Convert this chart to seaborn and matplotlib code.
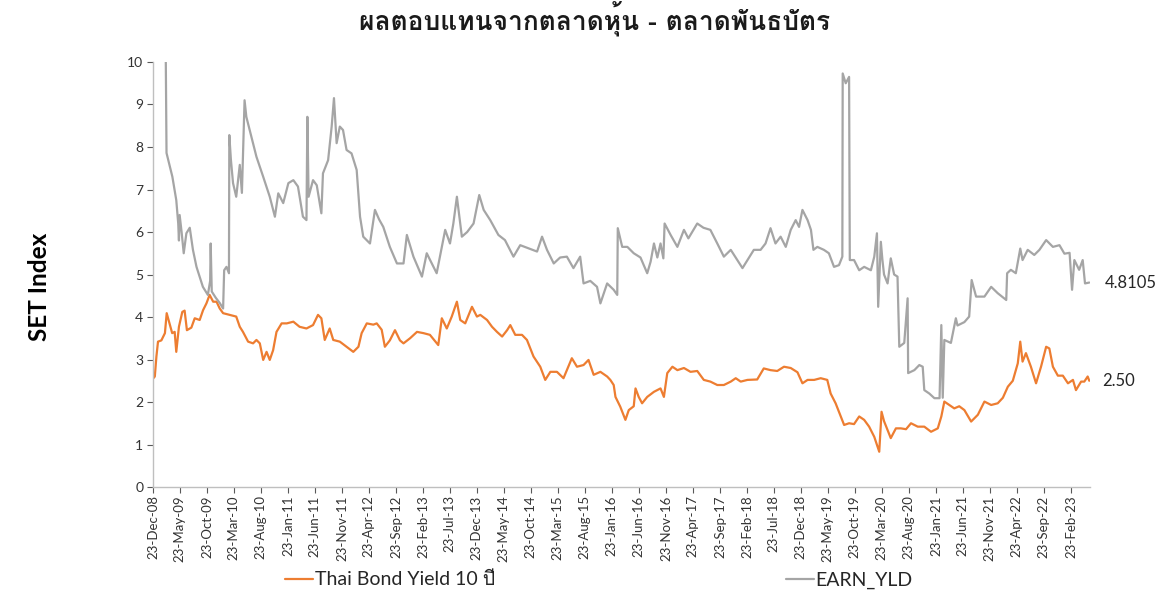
import matplotlib
matplotlib.use("Agg")
import matplotlib.pyplot as plt
import matplotlib.dates as mdates
import pandas as pd
import seaborn as sns
from matplotlib import font_manager
from matplotlib.ft2font import FT2Font

title = "ผลตอบแทนจากตลาดหุ้น - ตลาดพันธบัตร"
ylabel = "SET Index"
bond_label = "Thai Bond Yield 10 ปี"
earn_label = "EARN_YLD"

earn_dates = [
    "2009-03-05", "2009-03-09", "2009-04-11", "2009-05-03", "2009-05-14", "2009-05-18", "2009-05-22",
    "2009-06-02", "2009-06-14", "2009-06-29", "2009-07-18", "2009-08-05", "2009-08-25", "2009-09-30",
    "2009-10-28", "2009-11-10", "2009-11-13", "2009-11-19", "2009-12-12", "2010-01-03", "2010-01-22",
    "2010-01-28", "2010-02-10", "2010-02-24", "2010-02-26", "2010-03-07", "2010-03-19", "2010-04-06",
    "2010-04-26", "2010-05-08", "2010-05-23", "2010-06-02", "2010-06-21", "2010-07-29", "2010-09-05",
    "2010-10-12", "2010-11-10", "2010-11-29", "2010-12-27", "2011-01-25", "2011-02-22", "2011-03-20",
    "2011-04-17", "2011-05-07", "2011-05-12", "2011-05-19", "2011-06-13", "2011-07-04", "2011-07-30",
    "2011-08-08", "2011-09-06", "2011-09-26", "2011-10-09", "2011-10-24", "2011-11-11", "2011-11-29",
    "2011-12-19", "2012-01-16", "2012-02-14", "2012-03-04", "2012-03-22", "2012-04-29", "2012-05-27",
    "2012-06-19", "2012-07-13", "2012-08-19", "2012-09-28", "2012-11-04", "2012-11-23", "2012-12-30",
    "2013-02-16", "2013-03-15", "2013-04-08", "2013-05-10", "2013-06-27", "2013-07-24", "2013-08-12",
    "2013-09-01", "2013-09-29", "2013-10-29", "2013-12-04", "2014-01-05", "2014-01-30", "2014-03-08",
    "2014-04-23", "2014-05-30", "2014-07-17", "2014-08-24", "2014-10-20", "2014-11-27", "2014-12-25",
    "2015-01-22", "2015-03-01", "2015-04-06", "2015-05-14", "2015-06-20", "2015-07-28", "2015-08-16",
    "2015-09-23", "2015-10-31", "2015-11-19", "2015-12-27", "2016-02-02", "2016-02-22", "2016-02-25",
    "2016-03-21", "2016-04-19", "2016-05-25", "2016-07-02", "2016-08-09", "2016-08-28", "2016-09-16",
    "2016-10-05", "2016-10-23", "2016-11-08", "2016-11-15", "2016-12-19", "2017-01-26", "2017-03-04",
    "2017-03-29", "2017-05-18", "2017-06-22", "2017-07-31", "2017-09-08", "2017-10-15", "2017-11-23",
    "2017-12-30", "2018-01-28", "2018-02-25", "2018-04-02", "2018-05-10", "2018-06-07", "2018-07-05",
    "2018-08-02", "2018-08-31", "2018-09-29", "2018-10-27", "2018-11-24", "2018-12-13", "2019-01-01",
    "2019-01-30", "2019-02-18", "2019-03-04", "2019-03-26", "2019-05-02", "2019-05-30", "2019-06-28",
    "2019-07-26", "2019-08-14", "2019-08-16", "2019-09-02", "2019-09-21", "2019-09-25", "2019-10-19",
    "2019-11-17", "2019-12-15", "2020-01-22", "2020-02-10", "2020-02-25", "2020-03-03", "2020-03-18",
    "2020-03-27", "2020-04-05", "2020-04-25", "2020-05-13", "2020-06-01", "2020-06-20", "2020-06-30",
    "2020-07-28", "2020-08-16", "2020-08-19", "2020-09-23", "2020-10-21", "2020-11-09", "2020-11-18",
    "2020-12-16", "2021-01-14", "2021-02-12", "2021-02-22", "2021-03-02", "2021-03-11", "2021-04-17",
    "2021-05-15", "2021-05-24", "2021-07-02", "2021-07-29", "2021-08-12", "2021-09-06", "2021-10-23",
    "2021-11-30", "2022-01-06", "2022-02-23", "2022-02-28", "2022-03-21", "2022-04-18", "2022-05-13",
    "2022-05-26", "2022-06-24", "2022-07-31", "2022-08-29", "2022-10-06", "2022-11-13", "2022-12-20",
    "2023-01-17", "2023-02-15", "2023-03-01", "2023-03-14", "2023-04-10", "2023-04-30", "2023-05-13",
    "2023-06-06",
]
earn_values = [
    10.0, 7.86, 7.3, 6.75, 6.2, 5.8, 6.4,
    6.0, 5.5, 5.97, 6.1, 5.58, 5.18, 4.71,
    4.52, 4.85, 5.73, 4.6, 4.45, 4.33, 4.2,
    5.1, 5.18, 5.03, 8.28, 7.7, 7.15, 6.83,
    7.58, 6.92, 9.1, 8.71, 8.4, 7.77, 7.3,
    6.83, 6.36, 6.91, 6.68, 7.15, 7.22, 7.07,
    6.36, 6.28, 8.71, 6.83, 7.22, 7.1, 6.44,
    7.38, 7.69, 8.48, 9.15, 8.09, 8.48, 8.4,
    7.93, 7.85, 7.46, 6.36, 5.89, 5.73, 6.52,
    6.3, 6.12, 5.65, 5.26, 5.26, 5.93, 5.42,
    4.95, 5.5, 5.3, 5.03, 6.05, 5.73, 6.2,
    6.83, 5.89, 6.0, 6.2, 6.87, 6.52, 6.28,
    5.93, 5.81, 5.42, 5.69, 5.6, 5.54, 5.89,
    5.58, 5.26, 5.4, 5.42, 5.15, 5.42, 4.79,
    4.85, 4.71, 4.32, 4.79, 4.64, 4.52, 6.09,
    5.65, 5.65, 5.5, 5.4, 5.03, 5.3, 5.73,
    5.4, 5.73, 5.38, 6.2, 5.93, 5.65, 6.05,
    5.85, 6.2, 6.1, 6.05, 5.73, 5.42, 5.58,
    5.34, 5.15, 5.34, 5.58, 5.58, 5.73, 6.09,
    5.73, 5.89, 5.65, 6.05, 6.28, 6.12, 6.52,
    6.28, 6.05, 5.58, 5.65, 5.58, 5.5, 5.18,
    5.22, 5.42, 9.73, 9.5, 9.65, 5.34, 5.34,
    5.1, 5.18, 5.1, 5.42, 5.97, 4.24, 5.77,
    5.34, 5.0, 4.79, 5.38, 5.0, 4.95, 3.3,
    3.39, 4.44, 2.68, 2.75, 2.87, 2.83, 2.28,
    2.2, 2.09, 2.09, 3.81, 2.1, 3.46, 3.39,
    3.97, 3.8, 3.88, 4.01, 4.87, 4.48, 4.48,
    4.71, 4.56, 4.4, 5.03, 5.11, 5.03, 5.61,
    5.34, 5.58, 5.46, 5.58, 5.81, 5.65, 5.69,
    5.49, 5.51, 4.64, 5.34, 5.11, 5.34, 4.79,
    4.8105,
]

bond_dates = [
    "2008-12-23", "2009-01-02", "2009-01-11", "2009-01-20", "2009-02-08", "2009-02-28", "2009-03-10",
    "2009-03-26", "2009-04-10", "2009-04-24", "2009-05-03", "2009-05-18", "2009-06-06", "2009-06-19",
    "2009-07-02", "2009-07-27", "2009-08-15", "2009-09-12", "2009-10-01", "2009-10-20", "2009-11-07",
    "2009-11-27", "2009-12-16", "2010-01-03", "2010-01-22", "2010-03-01", "2010-04-06", "2010-04-26",
    "2010-05-14", "2010-06-12", "2010-07-10", "2010-07-29", "2010-08-17", "2010-09-05", "2010-09-24",
    "2010-10-12", "2010-10-31", "2010-11-19", "2010-12-18", "2011-01-16", "2011-02-22", "2011-03-29",
    "2011-05-07", "2011-06-13", "2011-07-11", "2011-07-30", "2011-08-18", "2011-09-15", "2011-10-05",
    "2011-11-11", "2011-12-19", "2012-01-26", "2012-02-24", "2012-03-13", "2012-04-11", "2012-05-18",
    "2012-06-06", "2012-07-04", "2012-07-22", "2012-08-19", "2012-09-17", "2012-10-15", "2012-11-04",
    "2012-12-11", "2013-01-19", "2013-02-25", "2013-04-02", "2013-05-19", "2013-06-08", "2013-07-06",
    "2013-08-03", "2013-09-01", "2013-09-20", "2013-10-18", "2013-11-25", "2013-12-23", "2014-01-11",
    "2014-02-18", "2014-03-18", "2014-04-15", "2014-05-14", "2014-06-11", "2014-06-29", "2014-07-27",
    "2014-09-03", "2014-10-01", "2014-11-07", "2014-12-15", "2015-01-12", "2015-02-10", "2015-03-19",
    "2015-04-25", "2015-06-11", "2015-07-10", "2015-08-16", "2015-09-13", "2015-10-12", "2015-11-19",
    "2015-12-27", "2016-01-14", "2016-02-02", "2016-02-12", "2016-03-01", "2016-03-10", "2016-04-08",
    "2016-04-27", "2016-05-25", "2016-06-04", "2016-06-22", "2016-07-11", "2016-08-09", "2016-09-16",
    "2016-10-23", "2016-11-11", "2016-11-30", "2016-12-29", "2017-01-26", "2017-03-04", "2017-04-10",
    "2017-05-18", "2017-06-24", "2017-07-31", "2017-09-08", "2017-10-15", "2017-11-23", "2017-12-21",
    "2018-01-18", "2018-02-25", "2018-04-21", "2018-05-28", "2018-07-05", "2018-08-12", "2018-09-19",
    "2018-10-27", "2018-12-04", "2019-01-01", "2019-01-30", "2019-03-08", "2019-04-14", "2019-05-21",
    "2019-06-09", "2019-07-07", "2019-08-05", "2019-08-24", "2019-09-21", "2019-10-19", "2019-11-17",
    "2019-12-15", "2020-01-12", "2020-02-10", "2020-03-09", "2020-03-22", "2020-04-05", "2020-04-25",
    "2020-05-13", "2020-06-11", "2020-07-09", "2020-08-07", "2020-09-04", "2020-10-12", "2020-11-18",
    "2020-12-26", "2021-02-02", "2021-02-22", "2021-03-11", "2021-04-08", "2021-05-06", "2021-06-03",
    "2021-07-02", "2021-08-09", "2021-09-16", "2021-10-23", "2021-11-30", "2022-01-06", "2022-02-04",
    "2022-03-04", "2022-04-01", "2022-04-29", "2022-05-13", "2022-05-26", "2022-06-14", "2022-07-12",
    "2022-08-10", "2022-09-07", "2022-10-06", "2022-10-24", "2022-11-13", "2022-12-11", "2023-01-08",
    "2023-02-06", "2023-03-06", "2023-03-23", "2023-04-21", "2023-05-09", "2023-05-28", "2023-06-06",
]
bond_values = [
    2.55, 2.6, 3.07, 3.42, 3.45, 3.62, 4.09,
    3.85, 3.62, 3.65, 3.18, 3.77, 4.12, 4.15,
    3.69, 3.75, 3.97, 3.93, 4.16, 4.32, 4.52,
    4.36, 4.36, 4.2, 4.09, 4.05, 4.01, 3.77,
    3.65, 3.42, 3.38, 3.46, 3.38, 2.99, 3.18,
    2.99, 3.22, 3.65, 3.85, 3.85, 3.89, 3.77,
    3.73, 3.81, 4.05, 3.97, 3.46, 3.73, 3.46,
    3.42, 3.3, 3.18, 3.3, 3.62, 3.85, 3.82,
    3.85, 3.7, 3.3, 3.45, 3.69, 3.45, 3.38,
    3.5, 3.65, 3.62, 3.58, 3.34, 3.97, 3.73,
    4.01, 4.36, 3.93, 3.85, 4.24, 4.01, 4.05,
    3.93, 3.77, 3.65, 3.54, 3.69, 3.81, 3.58,
    3.58, 3.46, 3.07, 2.83, 2.52, 2.71, 2.71,
    2.56, 3.03, 2.83, 2.87, 2.99, 2.64, 2.71,
    2.6, 2.52, 2.4, 2.12, 1.97, 1.89, 1.58,
    1.81, 1.9, 2.32, 2.12, 1.97, 2.12, 2.24,
    2.32, 2.12, 2.68, 2.83, 2.75, 2.8, 2.71,
    2.73, 2.52, 2.48, 2.4, 2.4, 2.48, 2.56,
    2.48, 2.52, 2.53, 2.79, 2.75, 2.73, 2.83,
    2.8, 2.7, 2.44, 2.52, 2.52, 2.56, 2.52,
    2.2, 1.97, 1.66, 1.46, 1.5, 1.48, 1.66,
    1.58, 1.42, 1.18, 0.83, 1.77, 1.55, 1.34,
    1.15, 1.38, 1.38, 1.36, 1.5, 1.42, 1.42,
    1.3, 1.38, 1.66, 2.01, 1.93, 1.85, 1.9,
    1.81, 1.54, 1.7, 2.01, 1.93, 1.97, 2.1,
    2.36, 2.5, 2.91, 3.42, 2.95, 3.15, 2.83,
    2.44, 2.83, 3.3, 3.26, 2.83, 2.62, 2.62,
    2.44, 2.52, 2.28, 2.48, 2.48, 2.6, 2.50,
]

y_ticks = [0, 1, 2, 3, 4, 5, 6, 7, 8, 9, 10]
x_tick_dates = pd.date_range("2008-12-23", "2023-02-23", freq=pd.DateOffset(months=5))

bond_color = "#ED7D31"
earn_color = "#A5A5A5"


def find_font(ch):
    for f in font_manager.fontManager.ttflist:
        try:
            if FT2Font(f.fname).get_char_index(ord(ch)):
                return f.name
        except Exception:
            pass
    return None


sns.set_theme(style="white")
thai_font = find_font("ผ")
base = ["Lato", "DejaVu Sans"]
fams = base[:1] + ([thai_font] if thai_font else []) + base[1:]
plt.rcParams["font.family"] = fams

earn_df = pd.DataFrame({"date": pd.to_datetime(earn_dates), "value": earn_values})
bond_df = pd.DataFrame({"date": pd.to_datetime(bond_dates), "value": bond_values})

fig = plt.figure(figsize=(11.7, 5.95), dpi=100)
ax = fig.add_axes([0.1308, 0.1815, 0.8008, 0.7143])

sns.lineplot(data=bond_df, x="date", y="value", ax=ax, color=bond_color, lw=1.6, label=bond_label)
sns.lineplot(data=earn_df, x="date", y="value", ax=ax, color=earn_color, lw=1.6, label=earn_label)

ax.set_ylim(0, 10)
ax.set_xlim(pd.Timestamp("2008-12-23"), pd.Timestamp("2023-06-10"))
ax.set_yticks(y_ticks)
ax.set_xticks(x_tick_dates)
ax.xaxis.set_major_formatter(mdates.DateFormatter("%d-%b-%y"))
ax.tick_params(axis="x", rotation=90, labelsize=9.5, colors="#595959", length=4, width=0.8,
               direction="out", bottom=True, pad=2)
ax.tick_params(axis="y", labelsize=10, colors="#595959", length=4, width=0.8, direction="out",
               left=True, pad=3)
for lab in ax.get_xticklabels() + ax.get_yticklabels():
    lab.set_color("#333333")

for s in ["top", "right"]:
    ax.spines[s].set_visible(False)
for s in ["left", "bottom"]:
    ax.spines[s].set_color("#BFBFBF")
    ax.spines[s].set_linewidth(1.0)

ax.set_xlabel("")
ax.set_ylabel(ylabel, fontsize=17.5, fontweight="bold", color="black")
ax.yaxis.set_label_coords(-0.109, 0.47)

title_fams = ([thai_font] if thai_font else []) + ["DejaVu Sans"]
fig.text(0.508, 0.968, title, ha="center", va="center", fontsize=19, fontweight="bold",
         family=title_fams, color="#1a1a1a")

ax.annotate(f"{earn_values[-1]:.4f}", xy=(pd.to_datetime(earn_dates[-1]), earn_values[-1]),
            xytext=(11, 0), textcoords="offset points", va="center", ha="left", fontsize=12,
            color="#262626", annotation_clip=False)
ax.annotate(f"{bond_values[-1]:.2f}", xy=(pd.to_datetime(bond_dates[-1]), bond_values[-1]),
            xytext=(9, 0), textcoords="offset points", va="center", ha="left", fontsize=12,
            color="#262626", annotation_clip=False)

handles, labels = ax.get_legend_handles_labels()
ax.get_legend().remove()
fig.legend(handles, labels, loc="center", bbox_to_anchor=(0.512, 0.025), ncol=2, frameon=False,
           fontsize=14, handlelength=1.4, handletextpad=0.1, columnspacing=15.0,
           labelcolor="#262626")

fig.savefig("out.png", dpi=100, facecolor="white")
